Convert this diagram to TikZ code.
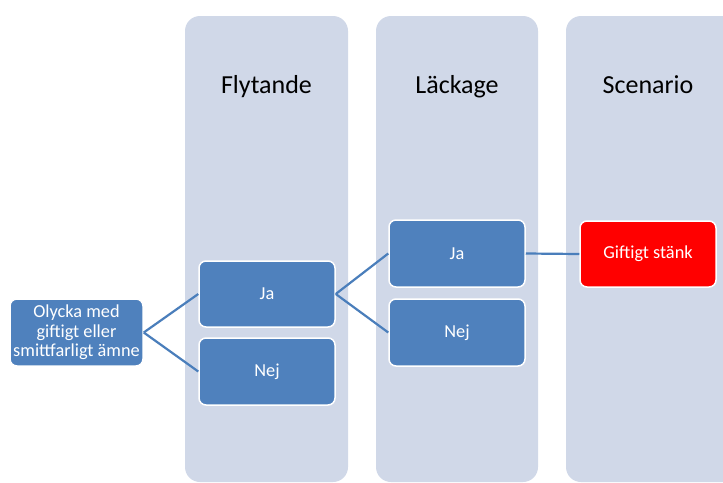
\documentclass[tikz,border=0pt]{standalone}
\usepackage{fontspec}
\setmainfont{Carlito}
\definecolor{colfill}{HTML}{D0D8E8}
\definecolor{boxfill}{HTML}{4F81BD}
\definecolor{linecol}{HTML}{4A7EBB}
\definecolor{redfill}{HTML}{FF0000}
\begin{document}
\begin{tikzpicture}[x=1pt,y=-1pt,
  column/.style={fill=colfill,draw=none,rounded corners=15pt},
  header/.style={font=\fontsize{26}{30}\selectfont,text=black,anchor=base,inner sep=0pt},
  box/.style={draw=white,line width=1.5pt,fill=boxfill,rounded corners=7pt,text=white,
    minimum width=136pt,minimum height=66pt,align=center,inner sep=1pt,
    font=\fontsize{18.3}{19.5}\selectfont},
  redbox/.style={box,fill=redfill},
  conn/.style={draw=linecol,line width=2.2pt}]
\useasboundingbox (0,0) rectangle (723,482);
\clip (0,0) rectangle (723,482);
\fill[white] (0,0) rectangle (723,482);
% columns
\path[column] (185,16) rectangle (348,482);
\path[column] (376,16) rectangle (538,482);
\path[column] (566,16) rectangle (740,482);
\node[header] (h1) at (266.5,93) {Flytande};
\node[header] (h2) at (457,93) {Läckage};
\node[header] (h3) at (648,93) {Scenario};
% boxes
\node[box,minimum width=133pt,minimum height=67pt] (src) at (76.5,332.5) {Olycka med\\giftigt eller\\smittfarligt ämne};
\node[box] (fja) at (267,294) {Ja};
\node[box,minimum height=67pt] (fnej) at (267,371.5) {Nej};
\node[box,minimum height=67pt] (lja) at (457,253.5) {Ja};
\node[box,minimum height=67pt] (lnej) at (457,332.5) {Nej};
\node[redbox] (red) at (648,254) {Giftigt stänk};
% connectors
\draw[conn] (src.east) -- (fja.west);
\draw[conn] (src.east) -- (fnej.west);
\draw[conn] (fja.east) -- (lja.west);
\draw[conn] (fja.east) -- (lnej.west);
\draw[conn] (lja.east) -- (red.west);
\end{tikzpicture}
\end{document}
